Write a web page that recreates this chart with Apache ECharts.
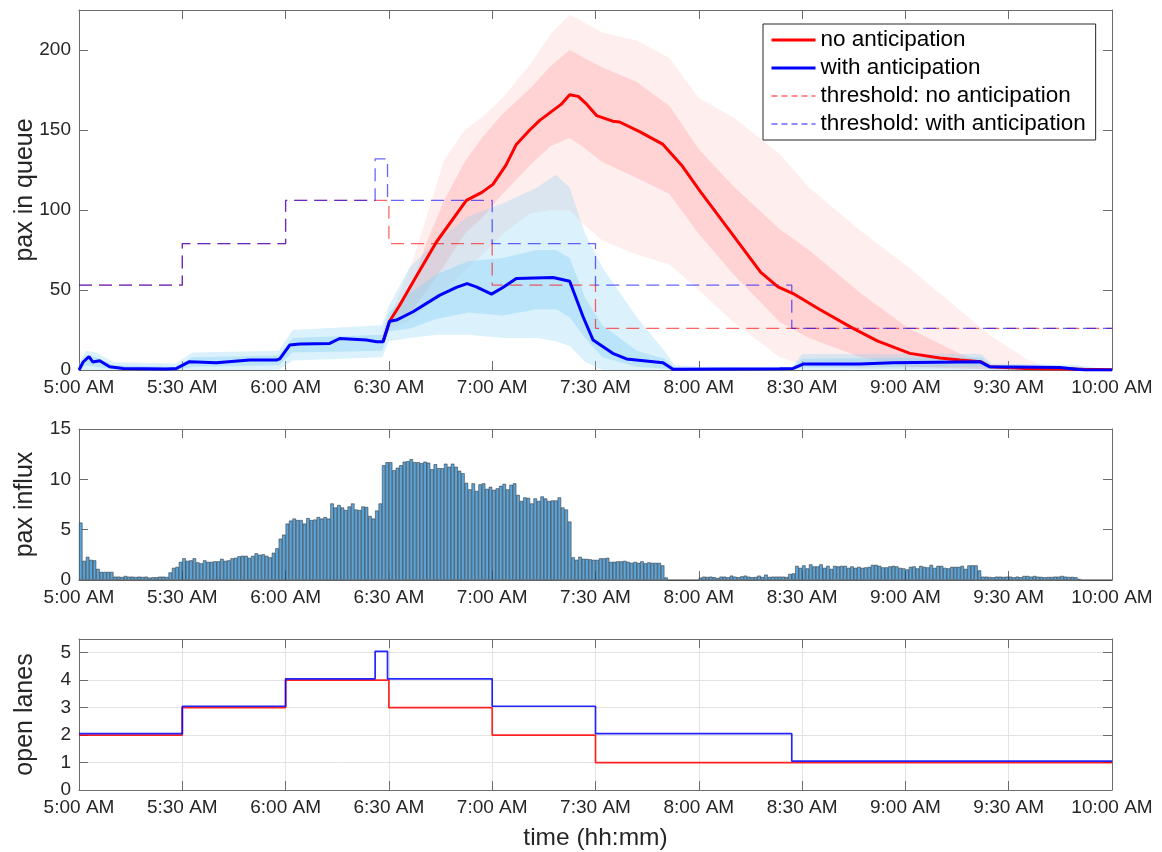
<!DOCTYPE html>
<html>
<head>
<meta charset="utf-8">
<title>pax in queue</title>
<script src="https://cdn.jsdelivr.net/npm/echarts@6/dist/echarts.min.js"></script>
<style>
  html, body { margin: 0; padding: 0; background: #fff; }
  #main { width: 1162px; height: 852px; }
</style>
</head>
<body>
<div id="main"></div>
<script>
// all times are minutes after 5:00 AM

// mean queue length, no anticipation
const meanNoAntT = [88.3, 90.2, 93, 97, 103.8, 112.5, 117, 120.2, 124, 127, 130.9, 133.8, 140, 142.5, 145, 147.5, 150.3, 155, 157, 162.8, 169.6, 175, 180.3, 189, 198, 203, 207.4, 215, 224.8, 232, 241.3, 250, 255.8, 262, 264.5, 275, 291.5, 300]
const meanNoAntV = [17.7, 30.5, 40, 55, 80, 106, 111, 116, 128, 141, 150, 156, 166, 172, 171, 166, 159, 155.5, 155, 149, 141, 128, 112, 87, 61, 52, 47.8, 38, 26, 18, 10.4, 7.5, 6.2, 5.2, 2, 1, 0.4, 0.2]

// mean queue length, with anticipation
const meanAntT = [0, 1.2, 2.9, 4, 6, 8.9, 12.8, 25.4, 28.3, 32.1, 39.9, 49.6, 57.3, 58.3, 61.2, 64.1, 72.8, 75.7, 83.5, 86.4, 88.3, 90.2, 92.2, 97, 104.8, 109.6, 112.7, 115.4, 119.8, 123.1, 127, 137.7, 142.5, 146.4, 149.3, 155, 159, 169.6, 172.5, 203.5, 207.4, 210.3, 226.7, 236.4, 261.6, 264.5, 284.8, 292, 300]
const meanAntV = [0, 5, 8.3, 5, 5.8, 2, 1, 0.7, 1, 5.2, 4.5, 6.2, 6.2, 7, 15.6, 16.2, 16.6, 19.7, 18.7, 17.7, 17.7, 30.5, 31.2, 36.4, 46.8, 51.6, 54, 52, 47.4, 51.6, 57.2, 57.8, 55.5, 33.3, 18.7, 10.4, 6.9, 4.5, 0.4, 0.8, 1, 3.7, 3.7, 4.5, 5.2, 2, 1.5, 0, 0]

// spread of the single simulation runs (outer envelope and dense core)
const redCloudT = [88, 90, 93, 97, 101, 106, 112, 117, 123, 131, 137, 142.5, 146, 152, 162, 171.5, 180, 190, 203.5, 212, 227, 241, 256, 265, 275, 281, 285]
const redOuterHi = [18, 31, 48, 69, 96, 131, 150, 158, 170, 191, 210, 222, 218, 211, 206, 195, 170, 158, 135, 114, 87, 64, 37, 21, 7, 2, 0]
const redOuterLo = [17, 25, 28, 32, 40, 50, 62, 72, 85, 98, 100, 100, 92, 81, 72, 66, 50, 30, 8, 2, 1, 1, 1, 0.5, 0, 0, 0]
const redCoreHi = [18, 31, 42, 55, 80, 106, 130, 145, 160, 176, 190, 200, 196, 189, 180, 165, 138, 115, 88, 75, 48, 26, 10, 3, 1, 0.5, 0]
const redCoreLo = [17, 28, 32, 38, 50, 65, 85, 95, 110, 128, 140, 145, 140, 130, 120, 110, 85, 60, 30, 20, 8, 2, 1, 0.5, 0, 0, 0]

const blueCloudT = [0, 2, 5, 10, 28, 33, 58, 62, 88, 90, 96, 104, 113, 123, 133, 138.5, 142.5, 147, 152, 162, 170, 173, 180, 207, 210, 262, 265, 290, 300]
const blueOuterHi = [4, 12, 11, 5, 4, 11, 12, 25, 28, 40, 64, 81, 96, 104, 114, 122, 114, 85, 64, 33, 12, 3, 2, 2, 10, 10, 4, 3, 0]
const blueOuterLo = [0, 0, 0, 0, 0, 0, 0, 6, 8, 18, 20, 22, 22, 20, 20, 18, 15, 5, 0, 0, 0, 0, 0, 0, 0, 0, 0, 0, 0]
const blueCoreHi = [2, 9, 8, 3, 2, 8, 9, 20, 22, 36, 48, 60, 68, 70, 75, 75, 70, 45, 28, 12, 7, 1.5, 1, 1, 7, 8, 3, 2, 0]
const blueCoreLo = [0, 3, 2, 0.5, 0, 2, 3, 11, 12, 24, 26, 32, 36, 34, 38, 38, 33, 20, 8, 2, 1, 0, 0, 0, 1.5, 2, 0.5, 0, 0]

// lane plans (value holds from its time until the next one)
const planNoAntT = [0, 30, 60, 90, 120, 150, 300]
const lanesNoAnt = [2, 3, 4, 3, 2, 1, 1]
const thresholdNoAnt = [53, 79, 106, 79, 53, 26, 26]
const planAntT = [0, 30, 60, 86, 89.6, 120, 150, 207, 300]
const lanesAnt = [2, 3, 4, 5, 4, 3, 2, 1, 1]
const thresholdAnt = [53, 79, 106, 132, 106, 79, 53, 26, 26]

// passengers arriving per minute, 5:00 - 9:59
const influx = [
  5.7, 1.9, 2.3, 2.0, 1.95, 1.1, 0.8, 0.8, 0.8, 0.8,
  0.33, 0.33, 0.3, 0.4, 0.33, 0.33, 0.3, 0.33, 0.3, 0.33,
  0.23, 0.27, 0.27, 0.33, 0.33, 0.3, 0.75, 1.2, 1.3, 1.8,
  2.15, 1.9, 1.95, 2.15, 1.75, 1.65, 1.95, 1.8, 1.8, 1.85,
  1.85, 2.1, 1.9, 1.95, 2.15, 2.2, 2.35, 2.4, 2.4, 2.2,
  2.4, 2.65, 2.5, 2.55, 2.4, 2.25, 2.7, 3.15, 4.1, 4.5,
  5.6, 5.9, 6.1, 5.95, 5.95, 5.6, 6.15, 5.95, 6.0, 6.25,
  6.1, 6.25, 6.1, 7.6, 7.2, 7.45, 7.2, 6.95, 7.3, 7.6,
  7.0, 6.95, 7.3, 7.25, 6.35, 6.1, 6.9, 7.6, 11.4, 11.7,
  11.7, 10.9, 11.15, 11.4, 11.75, 11.8, 12.0, 11.7, 11.7, 11.6,
  11.75, 11.65, 11.0, 11.5, 11.1, 11.1, 11.55, 11.25, 11.55, 11.25,
  10.85, 10.6, 9.65, 9.0, 9.6, 8.85, 9.5, 9.6, 9.05, 9.25,
  8.95, 9.1, 9.35, 9.55, 9.0, 9.45, 9.6, 8.45, 7.85, 8.2,
  8.15, 7.6, 8.1, 7.85, 8.3, 8.1, 7.85, 7.9, 7.9, 8.2,
  7.2, 7.0, 5.8, 2.25, 2.0, 2.3, 2.1, 2.1, 2.05, 2.0,
  2.0, 2.15, 2.15, 2.2, 1.8, 1.8, 1.85, 1.85, 1.9, 1.8,
  1.7, 1.8, 1.7, 1.85, 1.65, 1.75, 1.7, 1.7, 1.7, 1.45,
  0.25, 0, 0, 0, 0, 0, 0, 0, 0, 0,
  0.23, 0.33, 0.3, 0.33, 0.27, 0.2, 0.33, 0.33, 0.27, 0.43,
  0.33, 0.27, 0.36, 0.43, 0.33, 0.27, 0.3, 0.43, 0.3, 0.53,
  0.3, 0.33, 0.33, 0.33, 0.33, 0.3, 0.6, 0.65, 1.4, 1.2,
  1.45, 1.15, 1.55, 1.35, 1.35, 1.55, 1.2, 1.4, 1.1, 1.4,
  1.35, 1.4, 1.4, 1.2, 1.35, 1.2, 1.3, 1.2, 1.25, 1.3,
  1.5, 1.5, 1.4, 1.25, 1.25, 1.35, 1.4, 1.35, 1.2, 1.15,
  1.05, 1.3, 1.35, 1.15, 1.4, 1.3, 1.25, 1.5, 1.2, 1.4,
  1.4, 1.2, 1.15, 1.3, 1.3, 1.3, 1.4, 1.1, 1.45, 1.45,
  1.45, 0.95, 0.33, 0.33, 0.3, 0.27, 0.33, 0.33, 0.3, 0.33,
  0.33, 0.27, 0.33, 0.27, 0.4, 0.4, 0.33, 0.4, 0.33, 0.3,
  0.27, 0.3, 0.3, 0.33, 0.33, 0.4, 0.33, 0.3, 0.3, 0.27,
  0.1, 0, 0, 0, 0, 0, 0, 0, 0, 0
]

const legendNames = ['no anticipation', 'with anticipation', 'threshold: no anticipation', 'threshold: with anticipation']

// drawing helpers
const FONT = '"Liberation Sans", Arial, Helvetica, sans-serif'
const TEXT = '#262626'
const AXIS = '#6b6b6b'
const laneOffset = 0.05  // lift the blue lane line a little so both stay visible

function pairs (t, v, shift) {
  return t.map((x, i) => [x, v[i] + (shift || 0)])
}

function clock (m) {
  let h = 5 + Math.floor(m / 60)
  let mm = m % 60
  return h + ':' + (mm < 10 ? '0' : '') + mm + ' AM'
}

function timeAxis (grid, opts) {
  return Object.assign({
    type: 'value', gridIndex: grid, min: 0, max: 300, interval: 30,
    axisLine: { show: true, onZero: false, lineStyle: { color: AXIS, width: 1 } },
    axisTick: { show: true, inside: true, length: 9, lineStyle: { color: AXIS } },
    axisLabel: { show: true, margin: 8, color: TEXT, fontSize: 19, fontFamily: FONT, formatter: clock },
    splitLine: { show: false }
  }, opts || {})
}

function mirrorX (grid) {
  return timeAxis(grid, { position: 'top', axisLabel: { show: false } })
}

function valueAxis (grid, max, interval, opts) {
  return Object.assign({
    type: 'value', gridIndex: grid, min: 0, max: max, interval: interval, position: 'left',
    axisLine: { show: true, onZero: false, lineStyle: { color: AXIS, width: 1 } },
    axisTick: { show: true, inside: true, length: 9, lineStyle: { color: AXIS } },
    axisLabel: { show: true, margin: 8, color: TEXT, fontSize: 19, fontFamily: FONT },
    splitLine: { show: false },
    nameLocation: 'middle',
    nameGap: 41,
    nameMoveOverlap: false,
    nameTextStyle: { color: TEXT, fontSize: 25, fontFamily: FONT }
  }, opts || {})
}

function mirrorY (grid, max, interval) {
  return valueAxis(grid, max, interval, { position: 'right', axisLabel: { show: false } })
}

// a filled band between two read-off envelopes, drawn through the axis scales
function cloud (name, t, hi, lo, color) {
  return {
    name: name, type: 'custom', xAxisIndex: 0, yAxisIndex: 0,
    silent: true, clip: true,
    data: [[t[0], lo[0]]],
    renderItem: function (params, api) {
      let top = t.map((x, i) => api.coord([x, hi[i]]))
      let bottom = t.map((x, i) => api.coord([x, lo[i]])).reverse()
      return {
        type: 'polygon',
        shape: { points: top.concat(bottom) },
        style: { fill: color }
      }
    }
  }
}

const gridLine = { show: true, lineStyle: { color: '#e3e3e3', width: 1 } }

let chart = echarts.init(document.getElementById('main'))

let option = {
  animation: false,
  backgroundColor: '#ffffff',
  grid: [
    { left: 79, right: 50, top: 10, height: 360 },
    { left: 79, right: 50, top: 429, height: 151 },
    { left: 79, right: 50, top: 639, height: 151 }
  ],
  xAxis: [
    timeAxis(0),
    mirrorX(0),
    timeAxis(1),
    mirrorX(1),
    { type: 'category', gridIndex: 1, show: false, boundaryGap: true, data: influx.map((v, i) => i) },
    timeAxis(2, {
      splitLine: gridLine,
      name: 'time (hh:mm)', nameLocation: 'middle', nameGap: 36, nameMoveOverlap: false,
      nameTextStyle: { color: TEXT, fontSize: 24.5, fontFamily: FONT }
    }),
    mirrorX(2)
  ],
  yAxis: [
    valueAxis(0, 225, 50, { name: 'pax in queue', axisLabel: { color: TEXT, fontSize: 19, fontFamily: FONT, margin: 8, showMaxLabel: false } }),
    mirrorY(0, 225, 50),
    valueAxis(1, 15, 5, { name: 'pax influx' }),
    mirrorY(1, 15, 5),
    valueAxis(2, 5.5, 1, {
      name: 'open lanes', splitLine: gridLine,
      axisLabel: { color: TEXT, fontSize: 19, fontFamily: FONT, margin: 8, showMaxLabel: false }
    }),
    mirrorY(2, 5.5, 1)
  ],
  legend: {
    orient: 'vertical', left: 763, top: 24,
    itemWidth: 44, itemHeight: 14, itemGap: 0,
    padding: [2, 10, 2, 7],
    borderColor: '#262626', borderWidth: 1, backgroundColor: '#ffffff',
    selectedMode: false,
    itemStyle: { opacity: 0 },
    textStyle: { color: '#000', fontSize: 22.5, lineHeight: 28, fontFamily: FONT },
    data: [
      { name: legendNames[0], lineStyle: { width: 3 } },
      { name: legendNames[1], lineStyle: { width: 3 } },
      { name: legendNames[2], lineStyle: { width: 1.3, type: [6, 4] } },
      { name: legendNames[3], lineStyle: { width: 1.3, type: [6, 4] } }
    ]
  },
  series: [
    cloud('red-outer', redCloudT, redOuterHi, redOuterLo, 'rgba(255,150,150,0.16)'),
    cloud('red-core', redCloudT, redCoreHi, redCoreLo, 'rgba(255,150,150,0.3)'),
    cloud('blue-outer', blueCloudT, blueOuterHi, blueOuterLo, 'rgba(135,210,245,0.3)'),
    cloud('blue-core', blueCloudT, blueCoreHi, blueCoreLo, 'rgba(135,210,245,0.4)'),
    {
      name: legendNames[2], type: 'line', xAxisIndex: 0, yAxisIndex: 0,
      data: pairs(planNoAntT, thresholdNoAnt), step: 'end', symbol: 'none',
      lineStyle: { color: 'rgba(255,0,0,0.6)', width: 1.3, type: [13, 7] },
      itemStyle: { color: 'rgba(255,0,0,0.6)' }
    },
    {
      name: legendNames[3], type: 'line', xAxisIndex: 0, yAxisIndex: 0,
      data: pairs(planAntT, thresholdAnt), step: 'end', symbol: 'none',
      lineStyle: { color: 'rgba(0,0,255,0.6)', width: 1.3, type: [13, 7] },
      itemStyle: { color: 'rgba(0,0,255,0.6)' }
    },
    {
      name: legendNames[0], type: 'line', xAxisIndex: 0, yAxisIndex: 0,
      data: pairs(meanNoAntT, meanNoAntV), symbol: 'none',
      lineStyle: { color: '#ff0000', width: 3 }, itemStyle: { color: '#ff0000' }
    },
    {
      name: legendNames[1], type: 'line', xAxisIndex: 0, yAxisIndex: 0,
      data: pairs(meanAntT, meanAntV), symbol: 'none',
      lineStyle: { color: '#0000ff', width: 3 }, itemStyle: { color: '#0000ff' }
    },
    {
      name: 'influx', type: 'bar', xAxisIndex: 4, yAxisIndex: 2,
      data: influx, barCategoryGap: '0%', silent: true,
      itemStyle: { color: '#5ba5da', borderColor: '#222222', borderWidth: 0.5 }
    },
    {
      name: 'lanes no anticipation', type: 'line', xAxisIndex: 5, yAxisIndex: 4,
      data: pairs(planNoAntT, lanesNoAnt), step: 'end', symbol: 'none',
      lineStyle: { color: 'rgba(255,0,0,0.85)', width: 1.7 }
    },
    {
      name: 'lanes with anticipation', type: 'line', xAxisIndex: 5, yAxisIndex: 4,
      data: pairs(planAntT, lanesAnt, laneOffset), step: 'end', symbol: 'none',
      lineStyle: { color: 'rgba(0,0,255,0.85)', width: 1.7 }
    }
  ]
}

chart.setOption(option)
</script>
</body>
</html>
